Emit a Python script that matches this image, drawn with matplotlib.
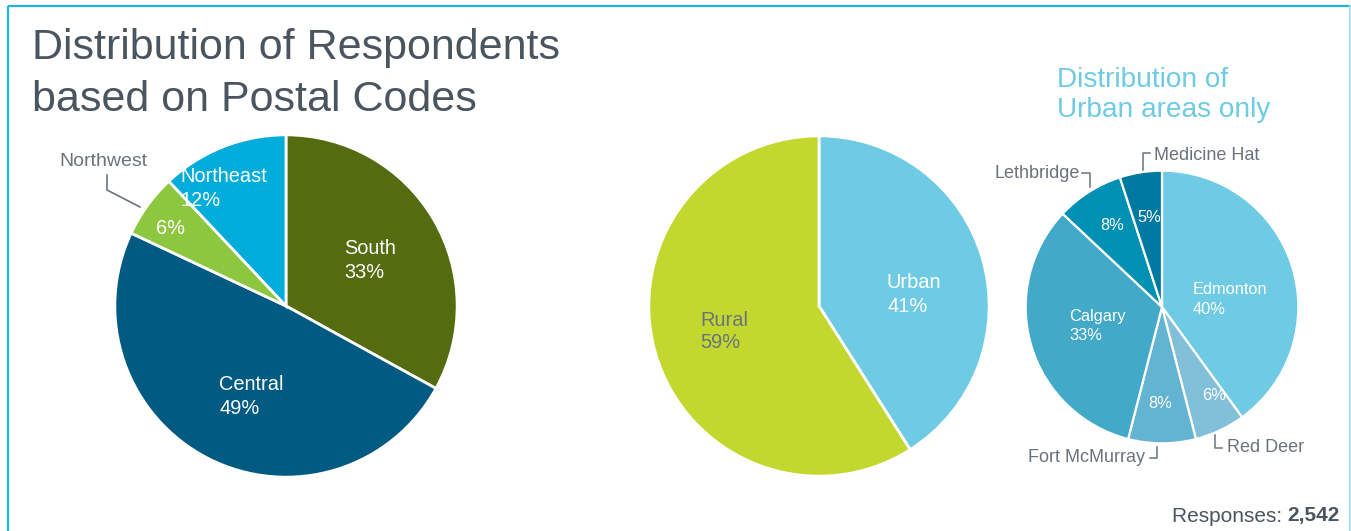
import matplotlib
matplotlib.use("Agg")
import matplotlib.pyplot as plt

W, H = 1351, 531
FONT = ["Liberation Sans", "DejaVu Sans"]
plt.rcParams['font.family'] = FONT

# ---- data ----
region_labels = ["South", "Central", "Northwest", "Northeast"]
region_values = [33, 49, 6, 12]
region_colors = ["#556b10", "#005a82", "#8dc63f", "#00acd9"]

area_labels = ["Urban", "Rural"]
area_values = [41, 59]
area_colors = ["#6ecbe3", "#c3d82e"]

city_labels = ["Edmonton", "Red Deer", "Fort McMurray", "Calgary", "Lethbridge", "Medicine Hat"]
city_values = [40, 6, 8, 33, 8, 5]
city_colors = ["#6ecbe3", "#82c0d9", "#63b4d0", "#43a9c9", "#0090b4", "#0079a0"]

responses = "2,542"

fig = plt.figure(figsize=(W / 100, H / 100), dpi=100)
fig.patch.set_facecolor("white")


def pie_axes(cx, cy, r):
    ax = fig.add_axes([(cx - r) / W, (H - cy - r) / H, 2 * r / W, 2 * r / H])
    return ax


def draw_pie(ax, vals, cols, lw):
    ax.pie(vals, colors=cols, startangle=90, counterclock=False, radius=1,
           wedgeprops=dict(edgecolor="white", linewidth=lw))
    ax.set_xlim(-1.005, 1.005)
    ax.set_ylim(-1.005, 1.005)
    ax.set_aspect("equal")
    ax.axis("off")


ax1 = pie_axes(286, 306, 172)
draw_pie(ax1, region_values, region_colors, 2)
ax2 = pie_axes(819, 306, 171)
draw_pie(ax2, area_values, area_colors, 2)
ax3 = pie_axes(1162, 307, 137)
draw_pie(ax3, city_values, city_colors, 1.6)

# overlay axes in pixel coordinates
ov = fig.add_axes([0, 0, 1, 1], zorder=10)
ov.set_xlim(0, W)
ov.set_ylim(H, 0)
ov.axis("off")
ov.patch.set_alpha(0)

border = "#1fb5df"
ov.plot([8, 8], [6, H + 5], color=border, lw=1.6, solid_capstyle="butt")
ov.plot([8, 1350], [6, 6], color=border, lw=1.6, solid_capstyle="butt")
ov.plot([1349.5, 1349.5], [6, H + 5], color="#9fdcef", lw=1.2)

title_c = "#4a5560"
ov.text(32, 48, "Distribution of Respondents", fontsize=31, color=title_c, va="center", ha="left")
ov.text(32, 100, "based on Postal Codes", fontsize=31, color=title_c, va="center", ha="left")

sub_c = "#6ecbe3"
ov.text(1057, 80, "Distribution of", fontsize=20.2, color=sub_c, va="center", ha="left")
ov.text(1057, 110, "Urban areas only", fontsize=20.2, color=sub_c, va="center", ha="left")

lab_fs = 14.4
white = "white"
grey = "#6a737d"


def two_line(x, y1, y2, name, val, color, fs):
    if name:
        ov.text(x, y1, name, fontsize=fs, color=color, va="center", ha="left")
    ov.text(x, y2, f"{val}%", fontsize=fs, color=color, va="center", ha="left")


# pie 1 labels
two_line(344, 249, 273, region_labels[0], region_values[0], white, lab_fs)
two_line(219, 384, 408, region_labels[1], region_values[1], white, lab_fs)
two_line(180, 176, 200, region_labels[3], region_values[3], white, lab_fs)
ov.text(156, 229, f"{region_values[2]}%", fontsize=lab_fs, color=white, va="center", ha="left")
ov.text(59, 162, region_labels[2], fontsize=14, color=grey, va="center", ha="left")
ov.plot([107, 107, 140], [175, 190, 207], color=grey, lw=1.2)

# pie 2 labels
two_line(887, 283, 306, area_labels[0], area_values[0], white, lab_fs)
two_line(700, 320, 343, area_labels[1], area_values[1], grey, lab_fs)

# pie 3 labels
c_fs = 11.8
two_line(1193, 289, 309, city_labels[0], city_values[0], white, c_fs)
two_line(1069, 317, 336, city_labels[3], city_values[3], white, c_fs)
ov.text(1202, 396, f"{city_values[1]}%", fontsize=c_fs, color=white, va="center", ha="left")
ov.text(1148, 403, f"{city_values[2]}%", fontsize=c_fs, color=white, va="center", ha="left")
ov.text(1100, 226, f"{city_values[4]}%", fontsize=c_fs, color=white, va="center", ha="left")
ov.text(1137, 217, f"{city_values[5]}%", fontsize=c_fs, color=white, va="center", ha="left")

o_fs = 13
ov.text(1154, 155, city_labels[5], fontsize=o_fs, color=grey, va="center", ha="left")
ov.plot([1150, 1143, 1143], [153, 153, 170], color=grey, lw=1.1)
ov.text(1080, 173, city_labels[4], fontsize=o_fs, color=grey, va="center", ha="right")
ov.plot([1082, 1090, 1090], [173, 173, 187], color=grey, lw=1.1)
ov.text(1227, 448, city_labels[1], fontsize=o_fs, color=grey, va="center", ha="left")
ov.plot([1215, 1215, 1222], [435, 448, 448], color=grey, lw=1.1)
ov.text(1145, 458, city_labels[2], fontsize=o_fs, color=grey, va="center", ha="right")
ov.plot([1150, 1157, 1157], [458, 458, 447], color=grey, lw=1.1)

# responses
lbl = ov.text(1340, 516, "Responses: ", fontsize=15, color=title_c, va="center", ha="right")
t = ov.text(1340, 516, responses, fontsize=15, color=title_c, va="center", ha="right", fontweight="bold")
fig.canvas.draw()
bb = t.get_window_extent()
lbl.set_x(1340 - bb.width)

fig.savefig("out.png", dpi=100, facecolor="white")
